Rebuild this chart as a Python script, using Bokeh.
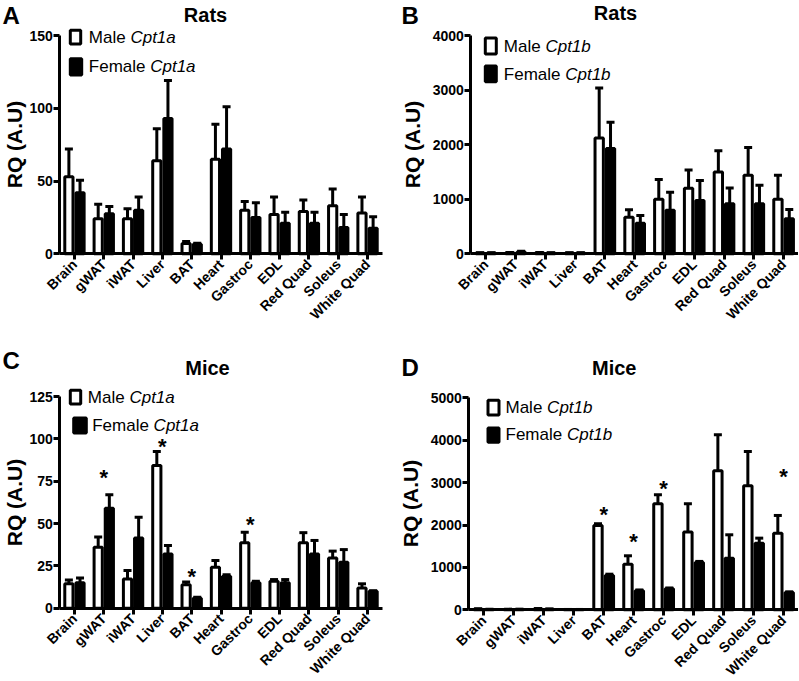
import math
from bokeh.plotting import figure
from bokeh.models import (Range1d, Label, BoxAnnotation, ColumnDataSource,
                          FixedTicker)
from bokeh.transform import dodge
from bokeh.layouts import column, row
from bokeh.embed import file_html
from bokeh.resources import INLINE
from bokeh.core.properties import value

tissues = ["Brain", "gWAT", "iWAT", "Liver", "BAT", "Heart", "Gastroc",
           "EDL", "Red Quad", "Soleus", "White Quad"]

# Panel A: rats, Cpt1a
rat_cpt1a_male = [53, 24, 24, 64, 7, 65, 30, 27, 29, 33, 28]
rat_cpt1a_male_sem = [19, 10, 7, 22, 1.5, 24, 6, 12, 8, 11.5, 11]
rat_cpt1a_female = [42, 27.5, 30, 93, 6.5, 72, 25, 21, 21, 18, 17.5]
rat_cpt1a_female_sem = [8.5, 5, 9, 26, 0.8, 29, 10, 7.5, 7.5, 9, 8]

# Panel B: rats, Cpt1b
rat_cpt1b_male = [15, 20, 20, 15, 2120, 670, 1000, 1200, 1500, 1440, 1000]
rat_cpt1b_male_sem = [5, 5, 5, 5, 920, 135, 360, 335, 390, 510, 440]
rat_cpt1b_female = [15, 35, 15, 15, 1930, 560, 800, 975, 915, 915, 640]
rat_cpt1b_female_sem = [5, 10, 5, 5, 480, 140, 330, 370, 290, 340, 170]

# Panel C: mice, Cpt1a
mouse_cpt1a_male = [14.4, 36, 17.3, 84.3, 13.8, 24.2, 38.6, 15.9, 38.6, 29.7, 12]
mouse_cpt1a_male_sem = [2.3, 6, 5, 8.2, 1.6, 4, 6.3, 1, 6, 4, 2.4]
mouse_cpt1a_female = [15, 59, 41.5, 32, 5.9, 18.9, 15, 15, 32, 27.2, 10]
mouse_cpt1a_female_sem = [2.9, 8, 12.2, 5, 0.5, 0.8, 0.9, 1.9, 8, 7.4, 0.3]
mouse_cpt1a_sig = ["gWAT", "Liver", "BAT", "Gastroc"]
mouse_cpt1a_sig_y = [77.6, 95.9, 19.3, 50.1]

# Panel D: mice, Cpt1b
mouse_cpt1b_male = [15, 10, 20, 5, 1990, 1077, 2500, 1832, 3280, 2925, 1808]
mouse_cpt1b_male_sem = [10, 5, 10, 3, 40, 197, 212, 668, 850, 810, 417]
mouse_cpt1b_female = [10, 10, 15, 5, 810, 448, 495, 1116, 1218, 1572, 409]
mouse_cpt1b_female_sem = [5, 5, 5, 3, 30, 20, 20, 25, 551, 118, 15]
mouse_cpt1b_sig = ["BAT", "Heart", "Gastroc", "White Quad"]
mouse_cpt1b_sig_y = [2264, 1627, 2884, 3167]

FONT = "Liberation Sans"
TEXT_SHIFT = 6  # label baseline correction (pixels)


def panel(letter, title, gene, male, male_sem, female, female_sem,
          yticks, sig_cats, sig_y, lay):
    W, H = lay["size"]
    ax_px, ax_end_px = lay["xaxis"]          # y-axis x position, x-axis end
    y0_px, ytop_px = lay["yaxis"]            # zero and top-tick pixel rows
    ymax = yticks[-1]
    w = (ax_end_px - ax_px) / len(tissues)   # pixels per category
    s = (y0_px - ytop_px) / ymax             # pixels per unit
    n = len(tissues)

    p = figure(x_range=Range1d(-0.5 - ax_px / w, -0.5 + (W - ax_px) / w),
               y_range=Range1d(-(H - y0_px) / s, ymax + ytop_px / s),
               width=W, height=H, output_backend="svg",
               toolbar_location=None, min_border=0)
    p.xgrid.visible = False
    p.ygrid.visible = False
    p.outline_line_color = None

    src = ColumnDataSource(dict(
        idx=list(range(n)), m=male, f=female,
        mt=[a + b for a, b in zip(male, male_sem)],
        ft=[a + b for a, b in zip(female, female_sem)]))
    xm = dodge("idx", -0.19)
    xf = dodge("idx", 0.19)
    for x, y0, y1 in ((xm, "m", "mt"), (xf, "f", "ft")):
        p.segment(x0=x, y0=y0, x1=x, y1=y1, source=src,
                  line_color="black", line_width=3)
        p.scatter(x=x, y=y1, marker="dash", size=8, line_width=3,
                  line_color="black", source=src)
    p.vbar(x=xm, top="m", width=0.28, fill_color="white",
           line_color="black", line_width=3, source=src)
    p.vbar(x=xf, top="f", width=0.28, fill_color="black",
           line_color="black", line_width=3, source=src)

    if sig_cats:
        p.text(x=[tissues.index(c) for c in sig_cats], y=sig_y,
               text=["*"] * len(sig_cats),
               text_align="center", text_baseline="middle",
               text_font=value(FONT), text_font_style="bold",
               text_font_size="22px", y_offset=1, text_color="black")

    for ax in (p.xaxis[0], p.yaxis[0]):
        ax.axis_line_width = 3
        ax.axis_line_color = "black"
        ax.major_tick_line_width = 3
        ax.major_tick_line_color = "black"
        ax.major_tick_out = 6
        ax.major_tick_in = 0
        ax.minor_tick_line_color = None
        ax.major_label_text_font = FONT
        ax.major_label_text_font_style = "bold"
        ax.major_label_text_color = "black"
    xa = p.xaxis[0]
    xa.fixed_location = 0
    xa.bounds = (-0.5, n - 0.5)
    xa.ticker = FixedTicker(ticks=list(range(n)))
    xa.major_label_overrides = {i: t for i, t in enumerate(tissues)}
    xa.major_label_orientation = math.pi / 4
    xa.major_label_standoff = 2
    xa.major_label_text_font_size = "14px"
    ya = p.yaxis[0]
    ya.fixed_location = -0.5
    ya.bounds = (0, ymax)
    ya.ticker = FixedTicker(ticks=yticks)
    ya.major_label_standoff = 1
    ya.major_label_text_font_size = "14px"
    ya.axis_label = "RQ (A.U)"
    ya.axis_label_text_font = FONT
    ya.axis_label_text_font_style = "bold"
    ya.axis_label_text_font_size = "21px"
    ya.axis_label_text_color = "black"
    ya.axis_label_standoff = lay["label_standoff"]

    def lab(x, y_top, text, size, style="normal", align="left"):
        p.add_layout(Label(x=x, y=H - y_top + TEXT_SHIFT, x_units="screen",
                           y_units="screen", text=text, text_font=FONT,
                           text_font_style=style, text_font_size=size,
                           text_align=align, text_baseline="alphabetic",
                           text_color="black"))

    lx, lb = lay["letter"]
    lab(lx, lb, letter, "24px", "bold")
    tx, tb = lay["title"]
    lab(tx, tb, title, "20px", "bold", "center")

    for (bx0, bx1, by0, by1), (tx, tb), fill, word, shift in (
            (lay["box1"], lay["text1"], "white", "Male", 41.6),
            (lay["box2"], lay["text2"], "black", "Female", 61.4)):
        p.add_layout(BoxAnnotation(left=bx0 + 1.5, right=bx1 - 1.5,
                                   top=H - by0 - 1.5, bottom=H - by1 + 1.5,
                                   left_units="screen", right_units="screen",
                                   top_units="screen", bottom_units="screen",
                                   fill_color=fill, fill_alpha=1,
                                   line_color="black", line_alpha=1,
                                   line_width=3, line_dash="solid"))
        lab(tx, tb, word, "17px")
        lab(tx + shift, tb, gene, "17px", "italic")
    return p


layA = dict(size=(400, 340), xaxis=(59.3, 381.7), yaxis=(253.3, 35),
            label_standoff=0, letter=(2, 20.7), title=(205, 20.7),
            box1=(68.3, 81.7, 28.3, 45), text1=(88.3, 43.3),
            box2=(68.3, 82.7, 56.7, 76), text2=(88.3, 71.7))
layB = dict(size=(398, 340), xaxis=(70.3, 398), yaxis=(253.3, 35),
            label_standoff=5, letter=(1, 20.7), title=(215, 18.3),
            box1=(83.3, 97.3, 36, 55), text1=(103.3, 52.3),
            box2=(83.3, 97.3, 64, 82.7), text2=(103.3, 80))
layC = dict(size=(400, 340), xaxis=(59.3, 381.7), yaxis=(267.7, 56),
            label_standoff=0, letter=(2, 26.3), title=(207, 33.3),
            box1=(68.3, 81.7, 48.3, 65), text1=(87.3, 63.3),
            box2=(71.7, 87.3, 76, 94), text2=(91.7, 90.7))
layD = dict(size=(398, 340), xaxis=(68.3, 398), yaxis=(269.3, 57.3),
            label_standoff=5, letter=(1, 32.7), title=(213.7, 33.3),
            box1=(86, 100, 58.3, 76), text1=(105, 73.3),
            box2=(86, 100, 86, 103.3), text2=(105, 100))

pA = panel("A", "Rats", "Cpt1a", rat_cpt1a_male, rat_cpt1a_male_sem,
           rat_cpt1a_female, rat_cpt1a_female_sem, [0, 50, 100, 150],
           [], [], layA)
pB = panel("B", "Rats", "Cpt1b", rat_cpt1b_male, rat_cpt1b_male_sem,
           rat_cpt1b_female, rat_cpt1b_female_sem,
           [0, 1000, 2000, 3000, 4000], [], [], layB)
pC = panel("C", "Mice", "Cpt1a", mouse_cpt1a_male, mouse_cpt1a_male_sem,
           mouse_cpt1a_female, mouse_cpt1a_female_sem,
           [0, 25, 50, 75, 100, 125], mouse_cpt1a_sig, mouse_cpt1a_sig_y,
           layC)
pD = panel("D", "Mice", "Cpt1b", mouse_cpt1b_male, mouse_cpt1b_male_sem,
           mouse_cpt1b_female, mouse_cpt1b_female_sem,
           [0, 1000, 2000, 3000, 4000, 5000], mouse_cpt1b_sig,
           mouse_cpt1b_sig_y, layD)

layout = column(row(pA, pB), row(pC, pD))
open("out.html", "w").write(file_html(layout, INLINE))
